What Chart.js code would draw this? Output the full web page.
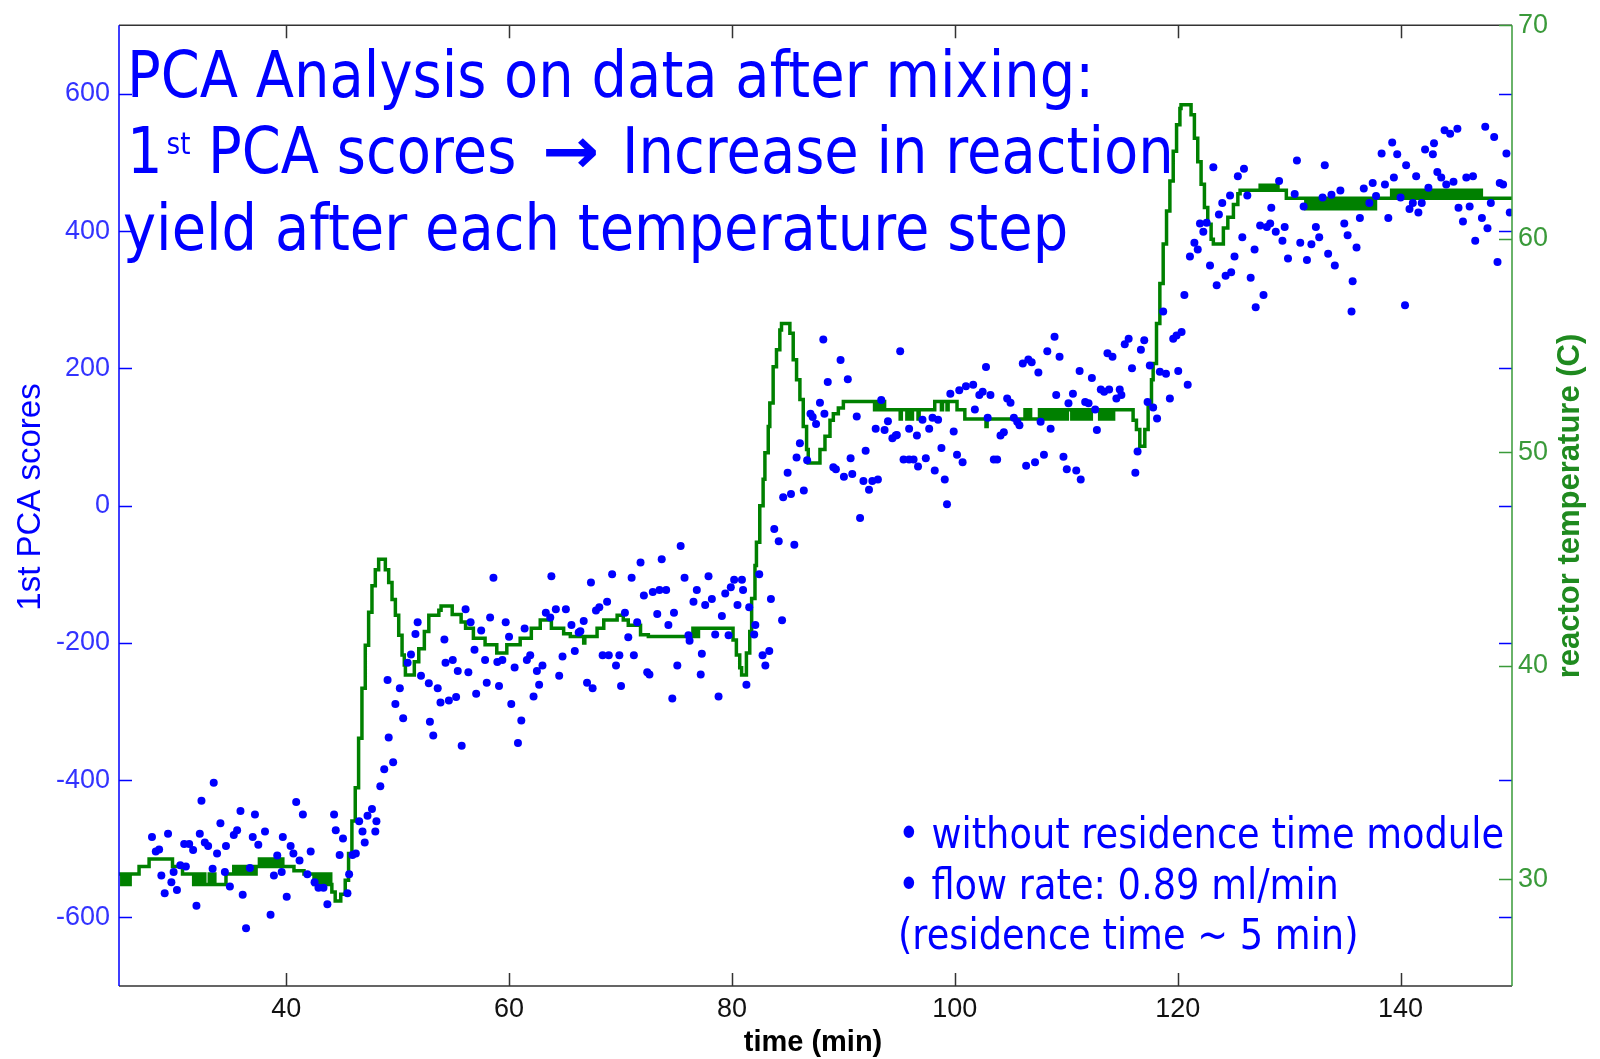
<!DOCTYPE html>
<html>
<head>
<meta charset="utf-8">
<script src="https://cdn.jsdelivr.net/npm/chart.js@4.4.1/dist/chart.umd.min.js"></script>
<style>
  html, body { margin: 0; padding: 0; background: #fff; }
  #wrap { width: 1600px; height: 1059px; }
</style>
</head>
<body>
<div id="wrap"><canvas id="pcaChart"></canvas></div>
<script>
// 1st PCA scores (blue dots, left axis)
const scoreTime = [
  27.96, 28.3, 28.6, 28.8, 29.1, 29.4, 29.7, 29.9, 30.2, 30.5, 30.85, 31.0, 31.3, 31.65, 31.95, 32.25,
  32.4, 32.7, 33.0, 33.4, 33.5, 33.8, 34.1, 34.5, 34.6, 34.95, 35.3, 35.6, 35.9, 36.1, 36.4, 36.75,
  37.0, 37.2, 37.5, 38.1, 38.6, 38.9, 39.2, 39.6, 39.7, 40.05, 40.4, 40.65, 40.9, 41.2, 41.5, 41.9,
  42.2, 42.55, 42.9, 43.35, 43.7, 44.3, 44.45, 44.8, 45.1, 45.5, 45.65, 45.95, 46.25, 46.55, 46.85,
  47.05, 47.3, 47.7, 48.0, 48.1, 48.45, 48.8, 49.1, 49.2, 49.6, 49.8, 50.2, 50.5, 50.9, 51.2, 51.6,
  51.8, 52.1, 52.8, 52.9, 53.2, 53.6, 53.85, 54.2, 54.3, 54.6, 54.95, 55.25, 55.4, 55.75, 56.1, 56.35,
  56.55, 56.9, 57.05, 57.5, 57.85, 58.0, 58.3, 58.6, 58.95, 59.1, 59.4, 59.7, 60.0, 60.2, 60.5, 60.8,
  61.1, 61.4, 61.6, 61.9, 62.2, 62.5, 62.7, 63.0, 63.3, 63.7, 63.8, 64.2, 64.5, 64.8, 65.1, 65.6,
  65.9, 66.25, 66.4, 66.7, 67.0, 67.35, 67.5, 67.8, 68.1, 68.4, 68.8, 68.95, 69.25, 69.6, 69.9, 70.05,
  70.4, 70.7, 71.0, 71.2, 71.5, 71.8, 72.1, 72.4, 72.6, 72.9, 73.3, 73.5, 73.7, 74.1, 74.3, 74.65,
  74.8, 75.1, 75.4, 75.75, 76.1, 76.2, 76.55, 76.85, 77.2, 77.3, 77.6, 77.9, 78.2, 78.5, 78.8, 79.1,
  79.4, 79.7, 79.9, 80.2, 80.5, 80.9, 81.0, 81.3, 81.55, 82.0, 82.1, 82.45, 82.75, 83.0, 83.35, 83.5,
  83.8, 84.2, 84.5, 84.6, 85.0, 85.3, 85.6, 85.8, 86.1, 86.45, 86.75, 87.05, 87.25, 87.55, 87.9, 88.2,
  88.3, 88.6, 89.1, 89.33, 89.75, 90.05, 90.4, 90.65, 90.8, 91.2, 91.5, 91.8, 92.0, 92.3, 92.6, 92.9,
  93.1, 93.4, 93.7, 94.0, 94.4, 94.7, 94.8, 95.1, 95.4, 95.9, 95.9, 96.3, 96.6, 96.7, 97.1, 97.4,
  97.7, 98.0, 98.2, 98.5, 98.8, 99.1, 99.3, 99.6, 99.9, 100.2, 100.4, 100.7, 101.0, 101.65, 101.8, 102.2,
  102.5, 102.8, 102.95, 103.2, 103.5, 103.8, 104.1, 104.4, 104.7, 105.0, 105.3, 105.6, 105.8, 106.1, 106.4, 106.6,
  106.9, 107.2, 107.5, 107.7, 108.0, 108.3, 108.6, 108.95, 109.1, 109.4, 109.75, 110.05, 110.2, 110.6, 110.9, 111.2,
  111.3, 111.7, 112.0, 112.3, 112.6, 112.75, 113.1, 113.4, 113.7, 113.85, 114.15, 114.5, 114.8, 114.95, 115.25, 115.6,
  115.9, 116.2, 116.4, 116.7, 117.0, 117.3, 117.5, 117.8, 118.15, 118.4, 118.7, 118.95, 119.3, 119.6, 119.9, 120.05,
  120.35, 120.6, 120.9, 121.1, 121.5, 121.8, 122.0, 122.3, 122.6, 122.9, 123.2, 123.5, 123.7, 124.0, 124.3, 124.7,
  124.8, 125.1, 125.4, 125.8, 125.95, 126.25, 126.55, 126.9, 127.0, 127.4, 127.7, 128.0, 128.3, 128.4, 128.8, 129.1,
  129.4, 129.6, 129.9, 130.5, 130.7, 131.0, 131.3, 131.6, 132.0, 132.4, 132.7, 133.0, 133.2, 133.5, 133.8, 134.1,
  134.6, 134.95, 135.25, 135.6, 135.7, 136.05, 136.35, 136.7, 137.2, 137.5, 137.8, 138.3, 138.6, 138.9, 139.25, 139.4,
  139.7, 140.0, 140.4, 140.5, 140.8, 141.1, 141.4, 141.6, 141.9, 142.2, 142.5, 142.9, 143.0, 143.3, 143.65, 143.95,
  144.1, 144.45, 144.75, 145.1, 145.2, 145.6, 145.9, 146.2, 146.5, 146.7, 147.3, 147.6, 147.8, 148.1, 148.4, 148.7,
  148.9, 149.2, 149.5, 149.8
];
const scoreValue = [
  -483, -504, -501, -539, -565, -478, -549, -534, -560, -524, -493, -526, -493, -502, -583, -478,
  -430, -491, -496, -529, -404, -507, -463, -534, -496, -555, -480, -473, -445, -567, -616, -528,
  -483, -450, -494, -475, -596, -539, -510, -534, -483, -570, -496, -507, -432, -517, -450, -537,
  -504, -549, -557, -557, -581, -450, -473, -509, -485, -565, -537, -509, -507, -460, -475,
  -491, -452, -442, -475, -460, -409, -384, -254, -338, -374, -289, -266, -310, -229, -217, -187,
  -170, -248, -259, -315, -335, -266, -287, -195, -229, -284, -225, -279, -241, -350, -151, -243,
  -170, -210, -274, -182, -225, -258, -163, -105, -228, -263, -225, -170, -191, -289, -236, -346,
  -313, -179, -225, -218, -278, -241, -261, -233, -156, -163, -103, -151, -248, -220, -151, -174,
  -212, -185, -183, -168, -258, -112, -266, -153, -148, -218, -140, -218, -100, -233, -218, -263,
  -156, -192, -105, -218, -170, -83, -131, -243, -246, -126, -158, -123, -78, -123, -174, -281,
  -156, -233, -59, -105, -189, -197, -140, -123, -246, -216, -145, -103, -136, -188, -278, -161,
  -128, -189, -119, -108, -145, -108, -123, -261, -148, -188, -174, -100, -218, -233, -212, -136,
  -34, -52, -167, 12, 48, 17, -57, 70, 91, 22, 66, 134, 129, 119, 150, 242,
  134, 180, 56, 53, 212, 42, 184, 69, 46, 130, -18, 36, 80, 23, 36, 112,
  38, 154, 110, 123, 98, 102, 103, 225, 67, 112, 67, 67, 102, 57, 125, 69,
  112, 128, 51, 125, 84, 38, 2, 163, 108, 74, 168, 63, 174, 176, 140, 161,
  166, 202, 128, 161, 67, 67, 102, 107, 156, 150, 128, 122, 117, 207, 58, 213,
  209, 63, 194, 122, 74, 225, 112, 246, 161, 217, 71, 53, 149, 163, 51, 196,
  38, 151, 149, 186, 140, 110, 169, 166, 222, 169, 217, 156, 169, 161, 235, 243,
  200, 48, 79, 227, 241, 151, 204, 143, 127, 195, 283, 192, 156, 243, 248, 196,
  253, 307, 176, 363, 383, 373, 411, 399, 412, 350, 493, 321, 424, 441, 335, 452,
  340, 363, 480, 391, 491, 452, 332, 373, 289, 408, 307, 406, 411, 434, 399, 473,
  386, 406, 360, 454, 503, 383, 436, 358, 381, 406, 391, 449, 496, 367, 453, 350,
  459, 411, 394, 283, 327, 376, 419, 462, 441, 470, 451, 513, 468, 419, 529, 478,
  512, 449, 292, 496, 432, 441, 480, 427, 441, 519, 463, 512, 528, 486, 478, 547,
  468, 542, 472, 549, 434, 414, 478, 436, 480, 386, 419, 552, 404, 441, 537, 355,
  470, 468, 513, 427
];

// reactor temperature (green line, right axis)
const tempTime = [
  25.0, 25.25, 25.5, 25.75, 26.0, 26.8, 27.7, 29.8, 30.7, 31.7, 31.95, 32.2, 32.45, 32.7, 33.1, 33.2,
  33.5, 33.6, 34.6, 35.3, 35.55, 35.8, 36.05, 36.3, 36.55, 36.8, 37.05, 37.3, 37.6, 37.85, 38.1, 38.35,
  38.6, 38.85, 39.1, 39.35, 39.6, 39.7, 40.7, 41.6, 42.5, 42.75, 43.0, 43.25, 43.5, 43.75, 44.0, 44.1,
  44.4, 44.9, 45.3, 45.6, 45.9, 46.2, 46.5, 46.8, 47.1, 47.4, 47.7, 48.0, 48.3, 48.9, 49.2, 49.5,
  49.8, 50.1, 50.4, 50.6, 50.7, 51.5, 51.9, 52.4, 52.8, 53.7, 53.9, 54.9, 55.7, 56.1, 56.8, 57.85,
  58.9, 59.8, 61.0, 62.0, 62.8, 63.8, 64.9, 65.5, 66.7, 66.8, 67.9, 68.5, 69.7, 70.25, 70.7, 71.8,
  72.5, 76.5, 76.75, 77.0, 80.1, 80.4, 80.7, 80.87, 81.3, 81.6, 81.77, 82.07, 82.2, 82.5, 82.8, 82.96,
  83.26, 83.4, 83.7, 84.0, 84.3, 84.45, 85.2, 85.5, 85.8, 86.1, 86.4, 86.7, 86.85, 87.9, 88.35, 88.8,
  89.1, 89.55, 90.0, 92.8, 93.05, 93.3, 93.55, 93.7, 95.1, 95.2, 95.7, 95.8, 96.1, 96.2, 96.7, 96.8,
  98.2, 98.8, 98.9, 99.3, 99.4, 100.2, 100.9, 102.8, 102.9, 106.3, 106.4, 106.7, 106.8, 107.6, 107.85, 108.1,
  108.35, 108.6, 108.85, 109.1, 109.35, 109.6, 109.85, 110.1, 110.5, 110.75, 111.0, 111.25, 111.5, 111.75, 112.0, 112.25,
  113.0, 113.25, 113.5, 113.75, 114.0, 114.25, 116.0, 116.3, 116.6, 117.05, 117.35, 117.65, 117.8, 118.1, 118.4, 118.7,
  119.0, 119.3, 119.6, 119.9, 120.2, 120.3, 121.2, 121.5, 121.8, 122.1, 122.4, 122.7, 123.0, 123.2, 124.1, 124.5,
  125.0, 125.4, 125.6, 127.4, 127.65, 127.9, 128.15, 128.4, 128.65, 128.9, 129.0, 129.75, 131.5, 131.75, 132.0, 132.25,
  132.5, 132.75, 133.0, 133.25, 133.5, 133.75, 134.0, 134.25, 134.5, 134.75, 135.0, 135.25, 135.5, 135.75, 136.0, 136.25,
  136.5, 136.7, 136.8, 137.0, 137.1, 137.4, 137.5, 137.75, 139.2, 139.3, 139.5, 139.75, 140.0, 140.25, 140.5, 140.75,
  141.0, 141.25, 141.5, 141.75, 142.0, 142.25, 142.5, 142.75, 143.0, 143.25, 143.5, 143.75, 144.0, 144.25, 144.5, 144.75,
  145.0, 145.25, 145.5, 145.75, 146.0, 146.25, 146.5, 146.75, 147.0, 147.25, 150.0
];
const tempValue = [
  30.25, 29.75, 30.25, 29.75, 30.25, 30.6, 30.95, 30.6, 30.25, 29.75, 30.25, 29.75, 30.25, 29.75, 30.25, 29.75,
  30.25, 29.75, 30.25, 30.6, 30.25, 30.6, 30.25, 30.6, 30.25, 30.6, 30.25, 30.6, 30.95, 30.6, 30.95, 30.6,
  30.95, 30.6, 30.95, 30.6, 30.95, 30.6, 30.4, 30.25, 29.75, 30.25, 29.75, 30.25, 29.75, 30.25, 29.75, 29.4,
  28.98, 29.3, 29.95, 31.2, 32.73, 34.28, 36.6, 38.95, 40.96, 42.51, 43.75, 44.5, 44.99, 44.5, 43.9, 43.1,
  42.36, 41.43, 40.5, 40.03, 39.57, 40.19, 40.8, 41.6, 42.36, 42.6, 42.8, 42.4, 42.05, 41.76, 41.29, 40.98,
  40.6, 40.98, 41.29, 41.76, 42.14, 41.76, 41.5, 41.37, 41.06, 41.37, 41.76, 42.14, 42.37, 42.14, 41.9, 41.45,
  41.37, 41.76, 41.37, 41.76, 41.2, 40.5, 39.9, 39.57, 40.6, 41.6, 43.15, 44.7, 45.78, 47.49, 48.73, 49.97,
  51.21, 52.3, 54.0, 54.8, 55.72, 56.03, 55.57, 54.33, 53.4, 52.47, 51.21, 50.13, 49.5, 50.13, 50.75, 51.5,
  51.8, 52.07, 52.38, 51.99, 52.38, 51.99, 52.38, 51.99, 51.56, 51.99, 51.56, 51.99, 51.56, 51.99, 51.56, 51.99,
  52.38, 51.99, 52.38, 51.99, 52.38, 51.99, 51.56, 51.2, 51.56, 51.99, 51.56, 51.99, 51.56, 51.99, 51.56, 51.99,
  51.56, 51.99, 51.56, 51.99, 51.56, 51.99, 51.56, 51.99, 51.56, 51.99, 51.56, 51.99, 51.56, 51.99, 51.56, 51.99,
  51.56, 51.99, 51.56, 51.99, 51.56, 51.99, 51.5, 51.06, 50.28, 51.06, 52.3, 53.39, 54.15, 56.03, 57.9, 59.75,
  61.3, 62.7, 64.1, 65.34, 66.1, 66.27, 65.8, 64.7, 63.6, 62.55, 61.46, 60.68, 59.98, 59.75, 60.5, 61.0,
  61.6, 62.1, 62.27, 62.5, 62.27, 62.5, 62.27, 62.5, 62.27, 62.5, 62.27, 61.9, 61.4, 61.9, 61.4, 61.9,
  61.4, 61.9, 61.4, 61.9, 61.4, 61.9, 61.4, 61.9, 61.4, 61.9, 61.4, 61.9, 61.4, 61.9, 61.4, 61.9,
  61.4, 61.9, 61.4, 61.9, 61.4, 61.9, 61.4, 61.9, 62.27, 61.9, 62.27, 61.9, 62.27, 61.9, 62.27, 61.9,
  62.27, 61.9, 62.27, 61.9, 62.27, 61.9, 62.27, 61.9, 62.27, 61.9, 62.27, 61.9, 62.27, 61.9, 62.27, 61.9,
  62.27, 61.9, 62.27, 61.9, 62.27, 61.9, 62.27, 61.9, 62.27, 61.9, 61.9
];

const xTicks = [40, 60, 80, 100, 120, 140];
const leftTicks = [-600, -400, -200, 0, 200, 400, 600];
const rightTicks = [30, 40, 50, 60, 70];

const titleLines = ["PCA Analysis on data after mixing:", "PCA scores", "Increase in reaction", "yield after each temperature step"];
const noteLines = ["\u2022 without residence time module", "\u2022 flow rate: 0.89 ml/min", "(residence time ~ 5 min)"];

const scorePoints = scoreTime.map((t, i) => ({ x: t, y: scoreValue[i] }));
const tempPoints = tempTime.map((t, i) => ({ x: t, y: tempValue[i] }));

const setTicks = list => axis => { axis.ticks = list.map(v => ({ value: v })); };

// box, inward ticks, axis titles and slide text
const framePlugin = {
  id: "frame",
  afterDraw(chart) {
    const { ctx, chartArea: a, scales } = chart;
    const { x, y, y2 } = scales;
    const tl = 13;
    ctx.save();
    ctx.lineWidth = 1.5;

    ctx.strokeStyle = "#333";
    ctx.beginPath();
    ctx.moveTo(a.left, a.top); ctx.lineTo(a.right, a.top);
    ctx.moveTo(a.left, a.bottom); ctx.lineTo(a.right, a.bottom);
    xTicks.forEach(v => {
      const px = Math.round(x.getPixelForValue(v)) + 0.5;
      ctx.moveTo(px, a.bottom); ctx.lineTo(px, a.bottom - tl);
      ctx.moveTo(px, a.top); ctx.lineTo(px, a.top + tl);
    });
    ctx.stroke();

    ctx.strokeStyle = "#0000ff";
    ctx.beginPath();
    ctx.moveTo(a.left, a.top); ctx.lineTo(a.left, a.bottom);
    leftTicks.forEach(v => {
      const py = Math.round(y.getPixelForValue(v)) + 0.5;
      ctx.moveTo(a.left, py); ctx.lineTo(a.left + tl, py);
      ctx.moveTo(a.right, py); ctx.lineTo(a.right - tl, py);
    });
    ctx.stroke();

    ctx.strokeStyle = "#3a9a3a";
    ctx.beginPath();
    ctx.moveTo(a.right, a.top); ctx.lineTo(a.right, a.bottom);
    rightTicks.forEach(v => {
      const py = Math.round(y2.getPixelForValue(v)) + 0.5;
      ctx.moveTo(a.right, py); ctx.lineTo(a.right - tl, py);
    });
    ctx.stroke();

    // axis titles
    ctx.textAlign = "center";
    ctx.textBaseline = "middle";
    ctx.fillStyle = "#0000ff";
    ctx.font = "33px 'Liberation Sans', Arial, sans-serif";
    ctx.save(); ctx.translate(31, 497); ctx.rotate(-Math.PI / 2);
    ctx.fillText("1st PCA scores", 0, 0); ctx.restore();

    ctx.fillStyle = "#1f8a1f";
    ctx.font = "bold 31px 'Liberation Sans', Arial, sans-serif";
    ctx.save(); ctx.translate(1570, 506); ctx.rotate(-Math.PI / 2);
    ctx.fillText("reactor temperature (C)", 0, 0); ctx.restore();

    ctx.fillStyle = "#000";
    ctx.font = "bold 29px 'Liberation Sans', Arial, sans-serif";
    ctx.fillText("time (min)", 813, 1043);

    // big blue slide text
    ctx.fillStyle = "#0000ff";
    ctx.textAlign = "left";
    ctx.textBaseline = "alphabetic";
    const big = "64px 'DejaVu Sans', Verdana, sans-serif";
    ctx.font = big;
    const sx = 967 / ctx.measureText(titleLines[0]).width;
    const put = (txt, px, py, font, k) => {
      ctx.font = font;
      const s = k || sx;
      ctx.save(); ctx.translate(px, py); ctx.scale(s, 1);
      ctx.fillText(txt, 0, 0); ctx.restore();
      return ctx.measureText(txt).width * s;
    };
    put(titleLines[0], 127, 97, big);
    let cx = 127;
    cx += put("1", cx, 173, big) + 4;
    put("st", cx, 154, "30px 'DejaVu Sans', Verdana, sans-serif");
    put(titleLines[1], 208, 173, big);
    ctx.font = "bold 64px 'DejaVu Sans', Verdana, sans-serif";
    put("\u2192", 542, 173, ctx.font, 57 / ctx.measureText("\u2192").width);
    put(titleLines[2], 622, 173, big);
    put(titleLines[3], 123, 250, big);

    const small = "43px 'DejaVu Sans', Verdana, sans-serif";
    ctx.font = small;
    const sx2 = 606 / ctx.measureText(noteLines[0]).width;
    noteLines.forEach((txt, i) => {
      ctx.save(); ctx.translate(898, 848 + i * 50.5); ctx.scale(sx2, 1);
      ctx.fillText(txt, 0, 0); ctx.restore();
    });
    ctx.restore();
  }
};

new Chart(document.getElementById("pcaChart"), {
  type: "scatter",
  data: {
    datasets: [
      {
        label: "1st PCA scores",
        data: scorePoints,
        yAxisID: "y",
        backgroundColor: "#0000ff",
        borderWidth: 0,
        pointRadius: 4,
        pointHoverRadius: 4,
        order: 1
      },
      {
        type: "line",
        label: "reactor temperature",
        data: tempPoints,
        yAxisID: "y2",
        borderColor: "#008000",
        borderWidth: 3.5,
        pointRadius: 0,
        stepped: true,
        fill: false,
        order: 2
      }
    ]
  },
  options: {
    responsive: true,
    maintainAspectRatio: false,
    animation: false,
    layout: { padding: { top: 20, left: 0, right: 0, bottom: 0 } },
    plugins: { legend: { display: false }, tooltip: { enabled: false } },
    scales: {
      x: {
        type: "linear",
        min: 25, max: 150,
        afterBuildTicks: setTicks(xTicks),
        afterFit: s => { s.height = 73; },
        grid: { display: false, drawTicks: false },
        border: { display: false },
        ticks: { color: "#111", padding: 7, font: { family: "'Liberation Sans', Arial", size: 27 } }
      },
      y: {
        position: "left",
        min: -700, max: 700,
        afterBuildTicks: setTicks(leftTicks),
        afterFit: s => { s.width = 119; },
        grid: { display: false, drawTicks: false },
        border: { display: false },
        ticks: { color: "#3333ff", padding: 9, font: { family: "'Liberation Sans', Arial", size: 27 } }
      },
      y2: {
        position: "right",
        min: 25, max: 70,
        afterBuildTicks: setTicks(rightTicks),
        afterFit: s => { s.width = 88; },
        grid: { display: false, drawTicks: false },
        border: { display: false },
        ticks: { color: "#3a9a3a", padding: 6, font: { family: "'Liberation Sans', Arial", size: 27 } }
      }
    }
  },
  plugins: [framePlugin]
});
</script>
</body>
</html>
